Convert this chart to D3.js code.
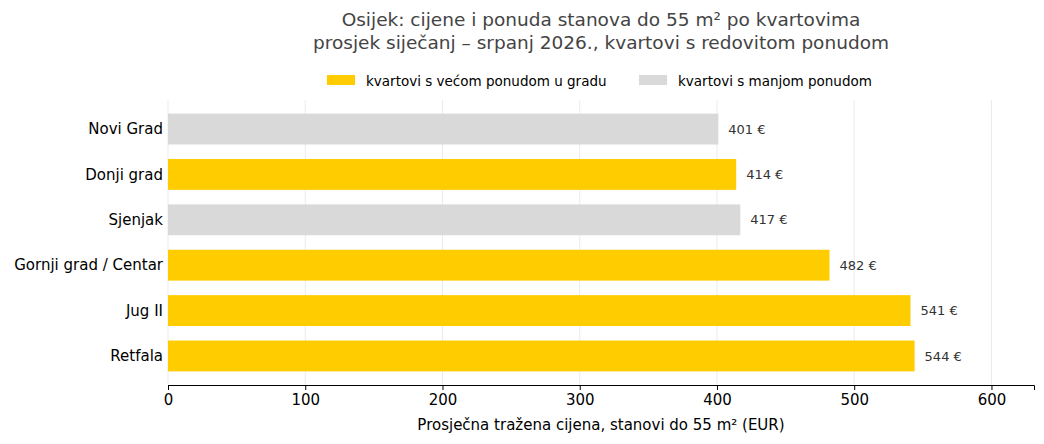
<!DOCTYPE html>
<html><head><meta charset="utf-8">
<script src="https://cdn.jsdelivr.net/npm/d3@7"></script>
<style>body{margin:0;background:#fff;font-family:"DejaVu Sans",sans-serif}</style>
</head><body>
<script>
var districts = ["Novi Grad","Donji grad","Sjenjak","Gornji grad / Centar","Jug II","Retfala"];
var prices = [401,414,417,482,541,544];
var bigSupply = [false,true,false,true,true,true];
var xTicks = [0,100,200,300,400,500,600];
var legendLabels = ["kvartovi s većom ponudom u gradu","kvartovi s manjom ponudom"];
var colors = ["#ffcc00","#d9d9d9"];

var W = 1044, H = 444, mLeft = 168, mRight = 1034, mTop = 100, mBottom = 385;
var svg = d3.select("body").append("svg").attr("width",W).attr("height",H);

var x = d3.scaleLinear().domain([0,631]).range([mLeft,mRight]);
var y = d3.scaleBand().domain(districts).range([mTop,mBottom]).paddingInner(0.32).paddingOuter(0.3);

// grid
svg.selectAll(".grid").data(xTicks).enter().append("line")
  .attr("x1",d=>x(d)).attr("x2",d=>x(d)).attr("y1",mTop).attr("y2",mBottom)
  .attr("stroke","#ebebeb").attr("stroke-width",1);

// bars
svg.selectAll(".bar").data(districts).enter().append("rect")
  .attr("x",x(0)).attr("y",d=>y(d))
  .attr("width",(d,i)=>x(prices[i])-x(0)).attr("height",y.bandwidth())
  .attr("fill",(d,i)=>bigSupply[i]?colors[0]:colors[1]);

svg.selectAll(".val").data(districts).enter().append("text")
  .attr("x",(d,i)=>x(prices[i])+10).attr("y",d=>y(d)+y.bandwidth()/2)
  .attr("dy","0.35em").attr("font-size",13).attr("fill","#333")
  .text((d,i)=>prices[i]+" €");

// y labels
svg.selectAll(".ylab").data(districts).enter().append("text")
  .attr("x",mLeft-5).attr("y",d=>y(d)+y.bandwidth()/2).attr("dy","0.35em")
  .attr("text-anchor","end").attr("font-size",15).attr("fill","#000").text(d=>d);

// x axis
var ax = svg.append("g").attr("transform","translate(0,"+mBottom+")")
  .call(d3.axisBottom(x).tickValues(xTicks).tickSize(5).tickPadding(4));
ax.select(".domain").attr("stroke","#000");
ax.selectAll("text").attr("font-size",15).attr("font-family","DejaVu Sans").attr("fill","#000");

svg.append("text").attr("x",(mLeft+mRight)/2).attr("y",430).attr("text-anchor","middle")
  .attr("font-size",15).text("Prosječna tražena cijena, stanovi do 55 m² (EUR)");

// title
svg.append("text").attr("x",601).attr("y",26).attr("text-anchor","middle").attr("font-size",18.5).attr("fill","#444")
  .text("Osijek: cijene i ponuda stanova do 55 m² po kvartovima");
svg.append("text").attr("x",601).attr("y",49).attr("text-anchor","middle").attr("font-size",18.5).attr("fill","#444")
  .text("prosjek siječanj – srpanj 2026., kvartovi s redovitom ponudom");

// legend
var lx = [327,639];
legendLabels.forEach(function(t,i){
  svg.append("rect").attr("x",lx[i]).attr("y",75).attr("width",28).attr("height",10).attr("fill",colors[i]);
  svg.append("text").attr("x",lx[i]+39).attr("y",81).attr("dy","0.35em").attr("font-size",13.5).text(t);
});
</script>
</body></html>
